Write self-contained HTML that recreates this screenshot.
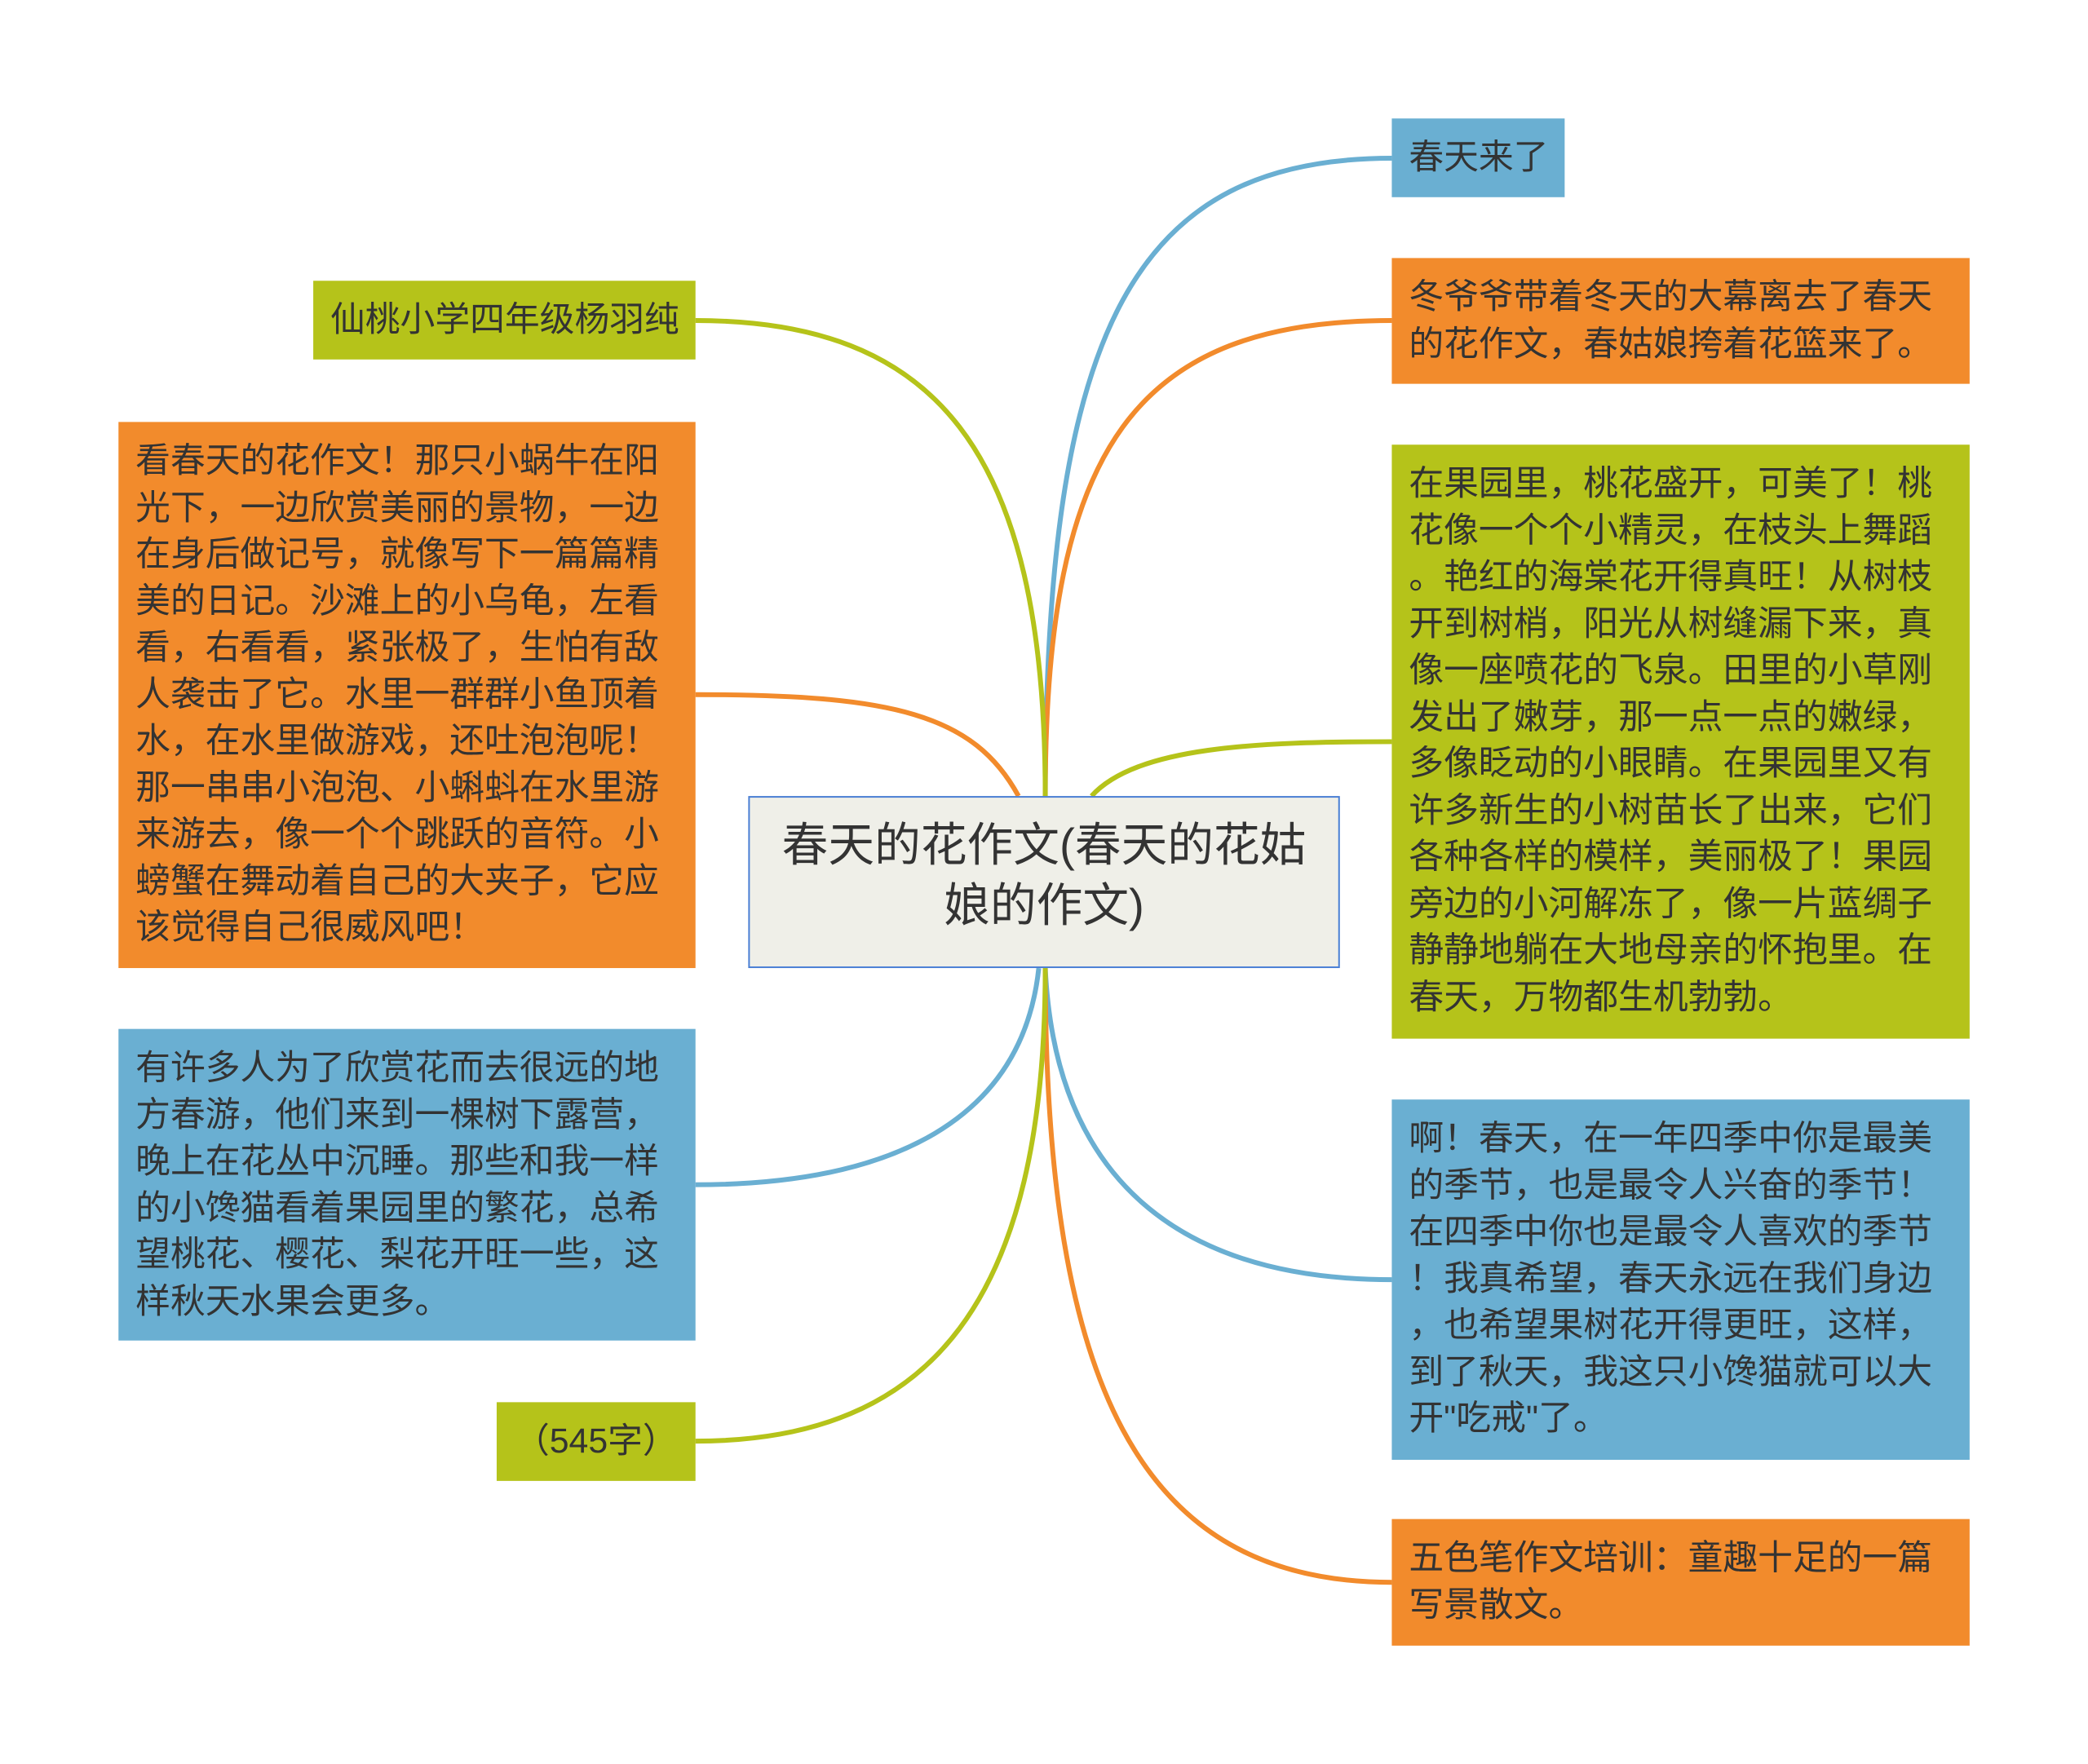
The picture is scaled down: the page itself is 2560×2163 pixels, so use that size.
<!DOCTYPE html>
<html><head><meta charset="utf-8"><style>
body{margin:0;width:2560px;height:2163px;background:#fff;position:relative;overflow:hidden;font-family:"Liberation Sans","Noto Sans CJK SC",sans-serif;}
#w{position:absolute;left:0;top:0;width:2560px;height:2163px;transform:scale(0.995);transform-origin:0 0;}
.n{position:absolute;box-sizing:border-box;color:#333;font-size:43px;line-height:57.5px;padding:20px 21px;white-space:nowrap;}
.b{background:#6aafd2}.o{background:#f28b2c}.g{background:#b5c31a}
svg{position:absolute;left:0;top:0}
</style></head><body><div id="w">
<svg width="2560" height="2163" fill="none" stroke-width="6">
<path d="M1288 981 C1288 400 1400 195 1715 195" stroke="#6aafd2"/>
<path d="M1288 981 C1288 550 1400 395 1715 395" stroke="#f28b2c"/>
<path d="M1345 981 C1400 920 1550 914 1715 914" stroke="#b5c31a"/>
<path d="M1288 1193 C1300 1450 1450 1577 1715 1577" stroke="#6aafd2"/>
<path d="M1288 1193 C1288 1700 1400 1950 1715 1950" stroke="#f28b2c"/>
<path d="M1288 981 C1288 550 1150 395 857 395" stroke="#b5c31a"/>
<path d="M1255 981 C1200 880 1100 856 857 856" stroke="#f28b2c"/>
<path d="M1280 1193 C1260 1380 1100 1460 857 1460" stroke="#6aafd2"/>
<path d="M1288 1193 C1288 1600 1150 1776 857 1776" stroke="#b5c31a"/>
</svg>
<div class="n" style="left:922px;top:981px;width:729px;height:212px;background:#efefe8;border:2px solid #4a7fd5;font-size:57px;line-height:74px;text-align:center;padding:22px 10px;">春天的花作文(春天的花姑<br>娘的作文)</div>
<div class="n b" style="left:1715px;top:146px;width:213px;height:97px;">春天来了</div>
<div class="n o" style="left:1715px;top:318px;width:712px;height:155px;">冬爷爷带着冬天的大幕离去了春天<br>的花作文，春姑娘挎着花篮来了。</div>
<div class="n g" style="left:1715px;top:548px;width:712px;height:732px;">在果园里，桃花盛开，可美了！桃<br>花像一个个小精灵，在枝头上舞蹈<br>。艳红的海棠花开得真旺！从树枝<br>开到树梢，阳光从树缝漏下来，真<br>像一座喷花的飞泉。田里的小草刚<br>发出了嫩芽，那一点一点的嫩绿，<br>多像眨动的小眼睛。在果园里又有<br>许多新生的小树苗长了出来，它们<br>各种各样的模样，美丽极了！果园<br>旁边的小河解冻了，像一片蓝绸子<br>静静地躺在大地母亲的怀抱里。在<br>春天，万物都生机勃勃。</div>
<div class="n b" style="left:1715px;top:1355px;width:712px;height:444px;">啊！春天，在一年四季中你是最美<br>的季节，也是最令人兴奋的季节！<br>在四季中你也是最令人喜欢的季节<br>！我真希望，春天永远在我们身边<br>，也希望果树花开得更旺，这样，<br>到了秋天，我这只小馋猫就可以大<br>开"吃戒"了。</div>
<div class="n o" style="left:1715px;top:1872px;width:712px;height:156px;">五色笔作文培训：童趣十足的一篇<br>写景散文。</div>
<div class="n g" style="left:386px;top:346px;width:471px;height:97px;">仙桃小学四年级杨羽纯</div>
<div class="n o" style="left:146px;top:520px;width:711px;height:673px;">看春天的花作文！那只小蜗牛在阳<br>光下，一边欣赏美丽的景物，一边<br>在身后做记号，就像写下一篇篇精<br>美的日记。沙滩上的小乌龟，左看<br>看，右看看，紧张极了，生怕有敌<br>人袭击了它。水里一群群小鱼顶着<br>水，在水里做游戏，还吐泡泡呢！<br>那一串串小泡泡、小蝌蚪在水里游<br>来游去，像一个个跳跃的音符。小<br>螃蟹在舞动着自己的大夹子，它应<br>该觉得自己很威风吧！</div>
<div class="n b" style="left:146px;top:1268px;width:711px;height:384px;">有许多人为了欣赏花而去很远的地<br>方春游，他们来到一棵树下露营，<br>晚上在花丛中沉睡。那些和我一样<br>的小馋猫看着果园里的繁花，总希<br>望桃花、樱花、梨花开旺一些，这<br>样秋天水果会更多。</div>
<div class="n g" style="left:612px;top:1728px;width:245px;height:97px;text-align:center;">（545字）</div>
</div></body></html>
